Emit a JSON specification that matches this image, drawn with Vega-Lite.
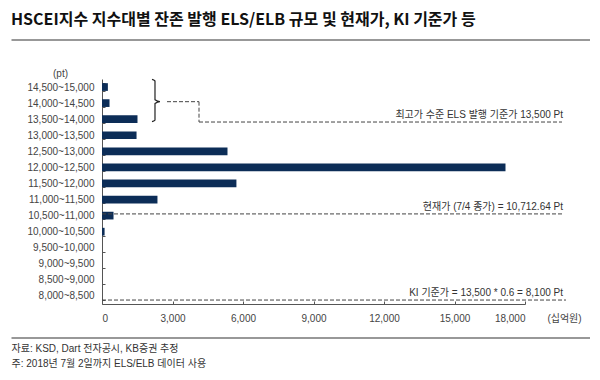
{
  "$schema": "https://vega.github.io/schema/vega-lite/v6.json",
  "width": 423,
  "height": 225,
  "autosize": "none",
  "padding": {"left": 102, "top": 79, "right": 75, "bottom": 76},
  "background": "white",
  "title": {
    "text": "HSCEI지수 지수대별 잔존 발행 ELS/ELB 규모 및 현재가, KI 기준가 등",
    "anchor": "start",
    "frame": "group",
    "font": "Noto Sans CJK KR",
    "fontSize": 16,
    "fontWeight": "bold",
    "color": "#111111",
    "dx": -91,
    "offset": 3,
    "baseline": "middle"
  },
  "datasets": {
    "bars": [
      {"range": "14,500~15,000", "value": 250},
      {"range": "14,000~14,500", "value": 320},
      {"range": "13,500~14,000", "value": 1510},
      {"range": "13,000~13,500", "value": 1470},
      {"range": "12,500~13,000", "value": 5340},
      {"range": "12,000~12,500", "value": 17170},
      {"range": "11,500~12,000", "value": 5720},
      {"range": "11,000~11,500", "value": 2360},
      {"range": "10,500~11,000", "value": 490},
      {"range": "10,000~10,500", "value": 110},
      {"range": "9,500~10,000", "value": 0},
      {"range": "9,000~9,500", "value": 0},
      {"range": "8,500~9,000", "value": 0},
      {"range": "8,000~8,500", "value": 0}
    ],
    "dashed": [
      {"name": "KI", "x": 0, "x2": 19745, "y": 8100, "y2": 8100},
      {"name": "current", "x": 0, "x2": 19617, "y": 10712.64, "y2": 10712.64},
      {"name": "max", "x": 4128, "x2": 19574, "y": 13500, "y2": 13500},
      {"name": "conn_v", "x": 4128, "x2": 4128, "y": 14117, "y2": 13500},
      {"name": "conn_h", "x": 2766, "x2": 4128, "y": 14117, "y2": 14117}
    ],
    "solid": [
      {"name": "title_line", "x": -3851, "x2": 20766, "y": 15988, "y2": 15988},
      {"name": "footer_line", "x": -3851, "x2": 20766, "y": 6949, "y2": 6949}
    ],
    "brace": [
      {"i": 0, "x": 2128, "y": 14795},
      {"i": 1, "x": 2255, "y": 14745},
      {"i": 2, "x": 2255, "y": 14175},
      {"i": 3, "x": 2468, "y": 14117},
      {"i": 4, "x": 2255, "y": 14059},
      {"i": 5, "x": 2255, "y": 13560},
      {"i": 6, "x": 2128, "y": 13510}
    ],
    "notes": [
      {"label": "최고가 수준 ELS 발행 기준가 13,500 Pt", "x": 19617, "y": 13500},
      {"label": "현재가 (7/4 종가) = 10,712.64 Pt", "x": 19617, "y": 10712.64},
      {"label": "KI 기준가 = 13,500 * 0.6 = 8,100 Pt", "x": 19617, "y": 8100}
    ],
    "footer": [
      {"label": "자료: KSD, Dart 전자공시, KB증권 추정", "x": -3851, "y": 6615},
      {"label": "주: 2018년 7월 2일까지 ELS/ELB 데이터 사용", "x": -3851, "y": 6160}
    ]
  },
  "layer": [
    {
      "data": {"name": "bars"},
      "mark": {"type": "bar", "color": "#0c2d57"},
      "encoding": {
        "y": {
          "field": "range",
          "type": "ordinal",
          "sort": null,
          "scale": {"paddingInner": 0.52, "paddingOuter": 0.26},
          "axis": {
            "title": "(pt)",
            "titleAngle": 0,
            "titleX": -42,
            "titleY": -6,
            "titleAlign": "center",
            "titleBaseline": "middle",
            "titleFontWeight": "normal",
            "titleFontSize": 10,
            "titleColor": "#444444",
            "tickBand": "extent",
            "tickSize": -3,
            "labelPadding": 11,
            "labelFontSize": 10,
            "labelColor": "#444444",
            "domainColor": "#555555",
            "tickColor": "#555555"
          }
        },
        "x": {
          "field": "value",
          "type": "quantitative",
          "scale": {"domain": [0, 18000], "nice": false},
          "axis": {
            "values": [0, 3000, 6000, 9000, 12000, 15000, 18000],
            "format": ",d",
            "grid": false,
            "title": "(십억원)",
            "titleX": 462,
            "titleY": 14,
            "titleAlign": "center",
            "titleBaseline": "middle",
            "titleFontWeight": "normal",
            "titleFontSize": 10,
            "titleColor": "#444444",
            "tickSize": -3,
            "labelPadding": 12,
            "labelFontSize": 10,
            "labelColor": "#444444",
            "domainColor": "#555555",
            "tickColor": "#555555"
          }
        }
      }
    },
    {
      "encoding": {},
      "layer": [
        {
          "data": {"name": "dashed"},
          "mark": {"type": "rule", "color": "#444444", "strokeWidth": 1, "strokeDash": [4, 2]},
          "encoding": {
            "x": {"field": "x", "type": "quantitative", "scale": {"domain": [0, 18000], "nice": false}, "axis": null},
            "x2": {"field": "x2"},
            "y": {"field": "y", "type": "quantitative", "scale": {"domain": [7980, 14805], "nice": false, "zero": false}, "axis": null},
            "y2": {"field": "y2"}
          }
        },
        {
          "data": {"name": "solid"},
          "mark": {"type": "rule", "color": "#333333", "strokeWidth": 1.2},
          "encoding": {
            "x": {"field": "x", "type": "quantitative", "axis": null},
            "x2": {"field": "x2"},
            "y": {"field": "y", "type": "quantitative", "axis": null},
            "y2": {"field": "y2"}
          }
        },
        {
          "data": {"name": "brace"},
          "mark": {"type": "line", "color": "#222222", "strokeWidth": 1.2, "interpolate": "monotone"},
          "encoding": {
            "x": {"field": "x", "type": "quantitative", "axis": null},
            "y": {"field": "y", "type": "quantitative", "axis": null},
            "order": {"field": "i"}
          }
        },
        {
          "data": {"name": "notes"},
          "mark": {"type": "text", "align": "right", "baseline": "bottom", "dy": -2, "fontSize": 10, "color": "#333333"},
          "encoding": {
            "x": {"field": "x", "type": "quantitative", "axis": null},
            "y": {"field": "y", "type": "quantitative", "axis": null},
            "text": {"field": "label"}
          }
        },
        {
          "data": {"name": "footer"},
          "mark": {"type": "text", "align": "left", "baseline": "middle", "fontSize": 10, "color": "#333333"},
          "encoding": {
            "x": {"field": "x", "type": "quantitative", "axis": null},
            "y": {"field": "y", "type": "quantitative", "axis": null},
            "text": {"field": "label"}
          }
        }
      ]
    }
  ],
  "resolve": {"scale": {"y": "independent"}, "axis": {"x": "independent"}},
  "config": {
    "view": {"stroke": null},
    "font": "Liberation Sans, Noto Sans CJK KR",
    "text": {"font": "Liberation Sans, Noto Sans CJK KR"}
  }
}
